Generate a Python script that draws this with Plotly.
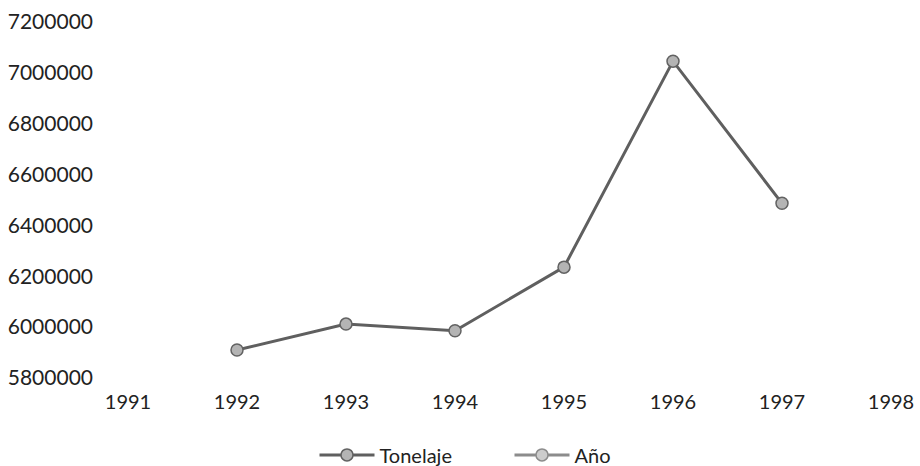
import plotly.graph_objects as go

years = [1992, 1993, 1994, 1995, 1996, 1997]
tonelaje = [5910000, 6012000, 5986000, 6236000, 7046000, 6487000]
anio = [1992, 1993, 1994, 1995, 1996, 1997]
y_ticks = [5800000, 6000000, 6200000, 6400000, 6600000, 6800000, 7000000, 7200000]
x_ticks = [1991, 1992, 1993, 1994, 1995, 1996, 1997, 1998]

font_family = "Lato, 'Open Sans', sans-serif"

fig = go.Figure()
fig.add_trace(go.Scatter(
    x=years, y=tonelaje, name="Tonelaje", mode="lines+markers",
    line=dict(color="#5f5f5f", width=3),
    marker=dict(size=12, color="#b4b4b4", line=dict(color="#626262", width=1.5)),
))
fig.add_trace(go.Scatter(
    x=years, y=anio, name="Año", mode="lines+markers",
    line=dict(color="#8c8c8c", width=3),
    marker=dict(size=12, color="#cccccc", line=dict(color="#8c8c8c", width=1.5)),
))

fig.update_layout(
    width=920, height=466,
    margin=dict(l=128, r=29, t=22, b=88, autoexpand=False),
    paper_bgcolor="white", plot_bgcolor="white",
    font=dict(family=font_family, size=21, color="#222222"),
    showlegend=True,
    legend=dict(orientation="h", x=0.5, xanchor="center", y=-0.216, yanchor="middle",
                font=dict(size=20), itemwidth=55, entrywidth=125),
    xaxis=dict(range=[1991, 1998], tickvals=x_ticks, ticktext=[str(v) for v in x_ticks],
               showgrid=False, zeroline=False, showline=False, ticklabelstandoff=10,
               automargin=False, tickfont=dict(size=20)),
    yaxis=dict(range=[5800000, 7200000], tickvals=y_ticks, ticktext=[str(v) for v in y_ticks],
               showgrid=False, zeroline=False, showline=False, ticklabelstandoff=34,
               automargin=False),
)

fig.write_html(
    "out.html",
    config={"displayModeBar": False},
    post_script="document.body.style.margin='0';document.documentElement.style.overflow='hidden';document.body.style.overflow='hidden';",
)
